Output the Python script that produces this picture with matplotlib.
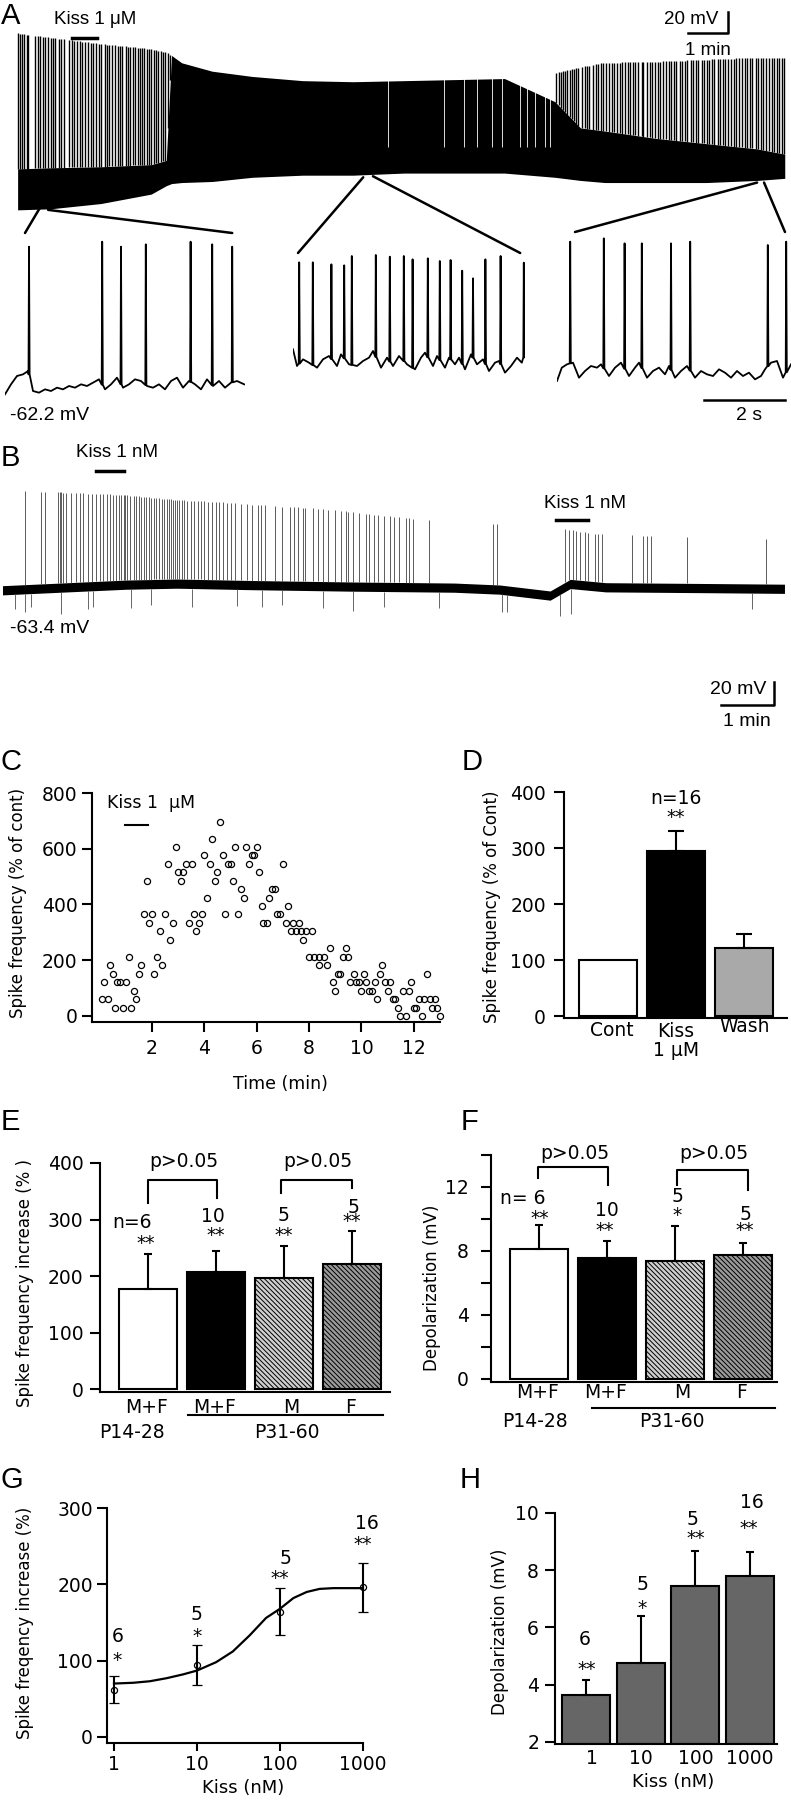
import numpy as np
import matplotlib
matplotlib.use("Agg")
import matplotlib.pyplot as plt
from matplotlib.patches import ConnectionPatch
from matplotlib import font_manager as fm

W, H = 791, 1800
SANS = "DejaVu Sans"
_names = {f.name for f in fm.fontManager.ttflist}
ARIAL = "Liberation Sans" if "Liberation Sans" in _names else "DejaVu Sans"
plt.rcParams["font.family"] = SANS
plt.rcParams["hatch.linewidth"] = 0.7

# ---------------- A: long recording, Kiss 1 uM (t in min, V in mV) ----------------
A_env_t   = [0.04, 0.85, 2.09, 3.33, 3.7, 3.83, 4.08, 4.83, 5.82, 7.06, 8.30, 9.55,
             10.8, 12.03, 13.27, 13.9, 14.5, 15.76, 17.0, 18.25, 18.93]
A_env_top = [85, 81, 75, 70, 67, 64, 57, 49, 44, 40, 39, 40, 41, 42, 47, 53, 57,
             58, 60, 62, 62]
A_env_bot = [-83, -82, -77, -68, -60, -58, -57, -56, -52, -50, -50, -48, -48, -48,
             -52, -55, -57, -57, -57, -55, -53]
A_env_mid = [-44, -43, -42, -40, -36, 64, 57, 49, 44, 40, 39, 40, 41, 42, 20, -5,
             -8, -15, -20, -25, -30]
A_spk_left = [0.05, 0.1, 0.15, 0.2, 0.26, 0.3, 0.48, 0.55, 0.6, 0.66, 0.72, 0.8,
              0.85, 0.92, 0.97, 1.05, 1.12, 1.17, 1.3, 1.38, 1.44, 1.5, 1.58,
              1.63, 1.7, 1.78, 1.85, 1.9, 1.98, 2.05, 2.1, 2.18, 2.25, 2.3, 2.36,
              2.45, 2.5, 2.56, 2.62, 2.7, 2.75, 2.8, 2.87, 2.93, 3.0, 3.05, 3.1,
              3.16, 3.22, 3.28, 3.33, 3.4, 3.45, 3.5, 3.56, 3.62, 3.68, 3.74, 3.8]
A_spk_right = [13.3, 13.36, 13.41, 13.47, 13.52, 13.58, 13.63, 13.69, 13.74, 13.8,
               13.85, 13.93, 14.0, 14.06, 14.11, 14.2, 14.27, 14.33, 14.41, 14.46,
               14.53, 14.6, 14.67, 14.72, 14.8, 14.87, 14.92, 15.0, 15.06, 15.13,
               15.2, 15.24, 15.32, 15.41, 15.45, 15.53, 15.6, 15.65, 15.73, 15.81,
               15.86, 15.94, 16.0, 16.07, 16.13, 16.21, 16.26, 16.35, 16.4, 16.47,
               16.53, 16.61, 16.66, 16.74, 16.8, 16.88, 16.93, 17.01, 17.07, 17.14,
               17.2, 17.28, 17.33, 17.41, 17.47, 17.54, 17.6, 17.68, 17.73, 17.81,
               17.87, 17.94, 18.0, 18.08, 18.13, 18.21, 18.27, 18.34, 18.4, 18.48,
               18.53, 18.61, 18.67, 18.74, 18.8, 18.87, 18.92]
A_gap_t = [9.17, 10.54, 11.04, 11.35, 11.72, 11.97, 12.4, 12.59, 12.78, 13.03, 13.15]

# A insets (t in s, V in mV)
IL_bt = [0, 0.15, 0.3, 0.45, 0.58, 0.7, 0.85, 1.0, 1.15, 1.3, 1.45, 1.6, 1.75, 1.9,
         2.05, 2.2, 2.35, 2.5, 2.65, 2.8, 2.95, 3.1, 3.25, 3.4, 3.55, 3.7, 3.85,
         4.0, 4.15, 4.3, 4.45, 4.6, 4.75, 4.9, 5.05, 5.2, 5.35, 5.5, 5.65, 5.8, 5.98]
IL_bv = [-66, -60, -55, -54, -52, -64, -65, -63, -64, -62, -63, -61, -62, -60,
         -61, -59, -57, -63, -60, -56, -62, -60, -57, -58, -61, -62, -60, -63,
         -58, -56, -62, -58, -60, -63, -57, -61, -58, -62, -59, -58, -60]
IL_st = [0.6, 2.43, 2.9, 3.52, 4.64, 5.18, 5.68]
IL_sv = [22.6, 25.6, 22.6, 24, 25.6, 24, 22.6]

IM_bt = [0, 0.1, 0.25, 0.4, 0.6, 0.75, 0.9, 1.1, 1.2, 1.4, 1.6, 1.75, 1.9, 2.0,
         2.2, 2.35, 2.5, 2.65, 2.85, 3.05, 3.2, 3.3, 3.5, 3.6, 3.8, 3.9, 4.05,
         4.15, 4.3, 4.45, 4.6, 4.75, 4.9, 5.05, 5.15, 5.3, 5.45, 5.6, 5.72, 5.8]
IM_bv = [-39, -49, -45, -47, -50, -45, -43, -49, -42, -48, -49, -46, -44, -40,
         -50, -44, -49, -43, -48, -51, -44, -41, -49, -43, -50, -44, -48, -44,
         -51, -42, -48, -45, -52, -47, -46, -53, -49, -44, -47, -42]
IM_st = [0.155, 0.495, 0.96, 1.28, 1.47, 2.07, 2.42, 2.77, 2.99, 3.37, 3.67,
         3.94, 4.23, 4.5, 4.81, 5.19, 5.77]
IM_sv = [13.2, 13.2, 12, 11.4, 17, 17.6, 16.6, 17, 15, 15.6, 14, 14.6, 8.2,
         3.6, 15, 17, 13]

IR_bt = [0, 0.12, 0.25, 0.4, 0.55, 0.7, 0.85, 1.0, 1.1, 1.3, 1.45, 1.6, 1.8,
         1.95, 2.05, 2.25, 2.4, 2.55, 2.7, 2.8, 2.95, 3.1, 3.25, 3.45, 3.6, 3.75,
         3.9, 4.05, 4.2, 4.35, 4.5, 4.65, 4.8, 4.95, 5.1, 5.2, 5.35, 5.5, 5.65, 5.85]
IR_bv = [-58, -50, -48, -47, -56, -52, -49, -50, -48, -55, -50, -47, -55, -50,
         -47, -56, -52, -50, -54, -49, -56, -52, -49, -56, -52, -54, -55, -51,
         -53, -56, -52, -55, -53, -57, -55, -51, -47, -46, -56, -48]
IR_st = [0.33, 1.17, 1.69, 2.12, 2.85, 3.33, 5.27, 5.73]
IR_sv = [25.6, 27.6, 24.6, 24.6, 24.6, 25.6, 23.6, 25.6]

# ---------------- B: Kiss 1 nM, two applications (t in min, V in mV) ----------------
B_band_t  = [0.0, 2.33, 3.29, 4.71, 6.62, 8.52, 9.38, 10.33, 10.71, 11.38, 13.28, 14.75]
B_band_hi = [-61.4, -56.5, -55.6, -56.9, -58.2, -59.1, -60.8, -66, -55.9, -58.8, -59.5, -60.1]
B_band_lo = [-69.4, -64.5, -63.6, -64.9, -66.2, -67.1, -68.8, -74, -63.9, -66.8, -67.5, -68.1]
B_top_t = [0.4, 2.3, 3.3, 4.2, 4.9, 6.0, 7.7, 9.3, 10.6, 11.1, 12.0, 12.9, 14.4]
B_top_v = [21, 17.5, 13, 11, 8.5, 5.5, -3, -8, -12, -16, -18, -19, -21]
B_spk = [0.43, 0.73, 0.81, 1.05, 1.08, 1.11, 1.14, 1.19, 1.29, 1.38, 1.46, 1.52,
         1.62, 1.69, 1.76, 1.83, 1.9, 1.97, 2.03, 2.09, 2.14, 2.19, 2.24, 2.29,
         2.31, 2.35, 2.41, 2.48, 2.52, 2.57, 2.62, 2.67, 2.71, 2.76, 2.81, 2.86,
         2.9, 2.95, 3.0, 3.05, 3.1, 3.14, 3.17, 3.21, 3.25, 3.29, 3.33, 3.38,
         3.43, 3.48, 3.55, 3.62, 3.68, 3.74, 3.81, 3.87, 3.95, 4.03, 4.09, 4.16,
         4.24, 4.31, 4.38, 4.5, 4.62, 4.71, 4.81, 4.88, 4.95, 5.14, 5.28, 5.43,
         5.49, 5.57, 5.66, 5.71, 5.86, 5.95, 6.05, 6.14, 6.28, 6.38, 6.47, 6.52,
         6.62, 6.73, 6.85, 6.92, 7.0, 7.09, 7.19, 7.3, 7.38, 7.47, 7.62, 7.66,
         7.74, 8.04, 9.26, 9.33, 10.61, 10.69, 10.76, 10.82, 10.9, 10.98, 11.04,
         11.17, 11.23, 11.3, 11.87, 12.09, 12.16, 12.23, 12.92, 14.4]
B_neg_t = [0.24, 0.43, 0.54, 1.1, 1.62, 1.71, 2.43, 2.81, 3.57, 4.43, 4.9, 5.28,
           6.05, 6.62, 7.19, 8.23, 9.42, 9.52, 10.52, 10.73, 14.14]
B_neg_v = [-82, -84, -80, -86, -82, -80, -81, -78, -80, -79, -80, -78, -81, -83,
           -80, -81, -84, -84, -88, -86, -82]

# ---------------- C: time course (% of control) ----------------
C_time = [0.09, 0.31, 0.18, 0.41, 0.5, 0.58, 0.66, 0.79, 0.89, 1.01, 1.11, 1.2,
          1.3, 1.4, 1.49, 1.59, 1.71, 1.81, 1.9, 2.0, 2.09, 2.19, 2.29, 2.39,
          2.51, 2.6, 2.7, 2.8, 2.9, 3.0, 3.1, 3.2, 3.3, 3.4, 3.51, 3.6, 3.69,
          3.79, 3.9, 4.0, 4.1, 4.2, 4.3, 4.4, 4.49, 4.6, 4.7, 4.79, 4.89, 5.0,
          5.1, 5.19, 5.3, 5.4, 5.5, 5.58, 5.71, 5.81, 5.91, 6.0, 6.1, 6.19, 6.25,
          6.38, 6.48, 6.6, 6.7, 6.79, 6.89, 6.99, 7.1, 7.2, 7.3, 7.4, 7.5, 7.6,
          7.7, 7.78, 7.9, 8.1, 8.0, 8.2, 8.39, 8.57, 8.39, 8.7, 8.8, 8.9, 9.0,
          9.09, 9.18, 9.3, 9.4, 9.49, 9.58, 9.71, 9.81, 9.9, 10.0, 10.1, 10.19,
          10.29, 10.39, 10.51, 10.6, 10.7, 10.79, 10.89, 11.0, 11.1, 11.2, 11.3,
          11.4, 11.49, 11.59, 11.69, 11.8, 11.9, 12.0, 12.1, 12.2, 12.3, 12.39,
          12.5, 12.6, 12.7, 12.79, 12.9, 12.99]
C_freq = [61, 61, 121, 182, 152, 30, 121, 121, 30, 121, 212, 30, 91, 61, 152, 182,
          364, 485, 333, 364, 152, 212, 303, 182, 364, 545, 273, 333, 606, 515,
          485, 515, 545, 333, 545, 364, 303, 333, 364, 576, 424, 545, 636, 485,
          515, 697, 576, 364, 545, 545, 485, 606, 364, 455, 424, 606, 545, 576,
          576, 606, 515, 394, 333, 333, 424, 455, 455, 364, 364, 545, 333, 394,
          303, 333, 303, 333, 303, 273, 303, 303, 212, 212, 212, 212, 182, 182,
          242, 121, 91, 152, 152, 212, 242, 212, 121, 152, 121, 121, 91, 152, 121,
          91, 91, 121, 61, 152, 182, 121, 91, 121, 61, 61, 30, 0, 91, 0, 91, 121,
          30, 30, 61, 0, 61, 152, 61, 30, 61, 30, 0]

# ---------------- D ----------------
D_cats = ["Cont", "Kiss\n1 \u03bcM", "Wash"]
D_val = [100, 295, 121]
D_sem = [0, 35, 25]

# ---------------- E / F ----------------
EF_cats = ["M+F", "M+F", "M", "F"]
E_val = [177, 208, 196, 221]
E_sem = [62, 37, 57, 58]
F_val = [8.1, 7.57, 7.4, 7.76]
F_sem = [1.5, 1.06, 2.15, 0.77]
E_n = ["n=6", "10", "5", "5"]
E_sig = ["**", "**", "**", "**"]
F_n = ["n= 6", "10", "5", "5"]
F_sig = ["**", "**", "*", "**"]

# ---------------- G / H ----------------
G_dose = [1, 10, 100, 1000]
G_val = [62, 94, 164, 196]
G_lo = [18, 26, 31, 32]
G_hi = [18, 26, 31, 32]
G_fit_x = [1, 1.7, 2.7, 4.3, 6.8, 10, 17, 27, 43, 68, 100, 145, 210, 300, 440, 1000]
G_fit_y = [70, 71, 73, 77, 82, 87, 98, 112, 133, 156, 168, 182, 190, 194, 195, 195]
G_n = ["6", "5", "5", "16"]
G_sig = ["*", "*", "**", "**"]
H_cats = ["1", "10", "100", "1000"]
H_val = [3.63, 4.77, 7.44, 7.79]
H_sem = [0.55, 1.62, 1.22, 0.85]
H_n = ["6", "5", "5", "16"]
H_sig = ["**", "*", "**", "**"]

fig = plt.figure(figsize=(W / 100, H / 100), dpi=100)


def axbox(x0, y0, x1, y1):
    return fig.add_axes([x0 / W, 1 - y1 / H, (x1 - x0) / W, (y1 - y0) / H])


def ftext(x, y, s, **kw):
    fig.text(x / W, 1 - y / H, s, **kw)


def style(ax, ypad=4):
    for s in ("top", "right"):
        ax.spines[s].set_visible(False)
    for s in ("left", "bottom"):
        ax.spines[s].set_linewidth(1.5)
    ax.tick_params(direction="out", length=7, width=1.5, labelsize=13.5)
    ax.tick_params(axis="y", pad=ypad)


def trace(ax, bt, bv, st, sv):
    pts = list(zip(bt, bv))
    for ts, vs in zip(st, sv):
        b = np.interp(ts, bt, bv)
        pts += [(ts - 0.012, b), (ts, vs), (ts + 0.015, b)]
    pts.sort()
    ax.plot([p[0] for p in pts], [p[1] for p in pts], color="k", lw=1.3)


# ---- panel letters ----
for lab, x, y in [("A", 1, 2), ("B", 1, 444), ("C", 1, 748), ("D", 462, 748),
                  ("E", 1, 1108), ("F", 461, 1108), ("G", 1, 1466), ("H", 460, 1466)]:
    ftext(x, y, lab, fontsize=21, family=ARIAL, va="top")

# ================= A =================
axA = axbox(16, 0, 788, 215)
axA.set_xlim(0, 19.01)
axA.set_ylim(-87.9, 116.8)
axA.axis("off")
axA.fill_between(A_env_t, A_env_bot, A_env_mid, color="k", lw=0)
for spk in (A_spk_left, A_spk_right):
    axA.vlines(spk, np.interp(spk, A_env_t, A_env_mid), np.interp(spk, A_env_t, A_env_top),
               color="k", lw=1.0)
axA.vlines(A_gap_t, -23, np.interp(A_gap_t, A_env_t, A_env_top) + 1, color="w", lw=0.6)
axA.plot([1.38, 1.99], [80.6, 80.6], color="k", lw=2.5, clip_on=False)
axA.text(1.95, 90, "Kiss 1 \u03bcM", family=ARIAL, fontsize=13.5, ha="center", va="bottom")
axA.plot([16.54, 17.54, 17.54], [85.4, 85.4, 105.4], color="k", lw=1.8, clip_on=False)
axA.text(17.3, 98, "20 mV", family=ARIAL, fontsize=13.5, ha="right", va="center")
axA.text(17.04, 69, "1 min", family=ARIAL, fontsize=13.5, ha="center", va="center")

insets = []
for (x0, x1, xr, bt, bv, st, sv) in [(5, 245, 6.0, IL_bt, IL_bv, IL_st, IL_sv),
                                      (293, 525, 5.8, IM_bt, IM_bv, IM_st, IM_sv),
                                      (557, 791, 5.85, IR_bt, IR_bv, IR_st, IR_sv)]:
    ai = axbox(x0, 225, x1, 400)
    ai.set_xlim(0, xr)
    ai.set_ylim(-69.4, 35.6)
    ai.axis("off")
    trace(ai, bt, bv, st, sv)
    insets.append(ai)

for ai, pa, pb in [(insets[0], (0.59, -81), (0.5, 30.8)),
                   (insets[0], (0.79, -83), (5.68, 30.8)),
                   (insets[1], (8.55, -52), (0.125, 18.8)),
                   (insets[1], (8.79, -51), (5.68, 18.8)),
                   (insets[2], (18.25, -57), (0.45, 31.4)),
                   (insets[2], (18.42, -57), (5.7, 31.4))]:
    con = ConnectionPatch(xyA=pa, coordsA=axA.transData, xyB=pb, coordsB=ai.transData,
                          color="k", lw=1.8)
    fig.add_artist(con)

ftext(10, 415, "-62.2 mV", family=ARIAL, fontsize=14, ha="left", va="center")
insets[2].plot([3.675, 5.7], [-69.4, -69.4], color="k", lw=1.8, clip_on=False)
insets[2].text(4.8, -78.5, "2 s", family=ARIAL, fontsize=14, ha="center", va="center")

# ================= B =================
axB = axbox(2.5, 440, 785, 730)
axB.set_xlim(0, 14.76)
axB.set_ylim(-186.9, 65.3)
axB.axis("off")
axB.fill_between(B_band_t, B_band_lo, B_band_hi, color="k", lw=0)
axB.vlines(B_spk, np.interp(B_spk, B_band_t, B_band_hi), np.interp(B_spk, B_top_t, B_top_v),
           color="0.25", lw=0.6)
axB.vlines(B_neg_t, np.interp(B_neg_t, B_band_t, B_band_lo), B_neg_v, color="0.3", lw=0.6)
axB.plot([1.76, 2.29], [38.3, 38.3], color="k", lw=2.5)
axB.text(2.16, 54, "Kiss 1 nM", family=ARIAL, fontsize=13.5, ha="center", va="center")
axB.plot([10.44, 11.05], [-4.3, -4.3], color="k", lw=2.5)
axB.text(10.99, 10.5, "Kiss 1 nM", family=ARIAL, fontsize=13.5, ha="center", va="center")
axB.text(0.14, -99, "-63.4 mV", family=ARIAL, fontsize=14, ha="left", va="center")
axB.plot([13.56, 14.56, 14.56], [-165.1, -165.1, -145.1], color="k", lw=1.8)
axB.text(14.4, -152.1, "20 mV", family=ARIAL, fontsize=14, ha="right", va="center")
axB.text(14.05, -179.9, "1 min", family=ARIAL, fontsize=14, ha="center", va="center")

# ================= C =================
axC = axbox(92, 793, 440, 1022)
axC.set_xlim(-0.29, 13.0)
axC.set_ylim(-22, 800)
style(axC, ypad=3.5)
axC.plot(C_time, C_freq, "o", ms=4.4, mfc="none", mec="k", mew=0.9, clip_on=False)
axC.set_xticks([2, 4, 6, 8, 10, 12])
axC.set_yticks([0, 200, 400, 600, 800])
axC.tick_params(axis="x", pad=5)
axC.plot([0.97, 1.85], [685, 685], color="k", lw=1.5)
axC.text(0.28, 764, "Kiss 1  \u03bcM", fontsize=12.5, ha="left", va="center")
axC.text(6.92, -245, "Time (min)", fontsize=12.5, ha="center", va="center")
ftext(18, 903, "Spike frequency (% of cont)", fontsize=12, rotation=90, ha="center", va="center")

# ================= D =================
axD = axbox(564, 792, 787, 1018)
axD.set_xlim(-0.647, 2.63)
axD.set_ylim(-3, 400)
style(axD, ypad=6)
axD.set_xticks([])
axD.set_yticks([0, 100, 200, 300, 400])
xd = np.arange(len(D_val))
axD.bar(xd, D_val, width=0.853, color=["white", "black", "#a9a9a9"], edgecolor="k", lw=1.5)
for i in range(len(D_val)):
    if D_sem[i] > 0:
        axD.errorbar(xd[i], D_val[i], yerr=[[0], [D_sem[i]]], fmt="none", ecolor="k",
                     elinewidth=1.5, capsize=5.5, capthick=1.5)
axD.text(1.0, 389, "n=16", fontsize=13.5, ha="center", va="center")
axD.text(1.0, 355, "**", fontsize=13.5, ha="center", va="center")
for i, (lab, yy) in enumerate(zip(D_cats, [-26, -44, -18])):
    axD.text(xd[i] + (0.05 if i == 0 else 0.0), yy, lab, fontsize=13.5, ha="center",
             va="center", linespacing=0.95, clip_on=False)
ftext(492, 907, "Spike frequency (% of Cont)", fontsize=12, rotation=90, ha="center", va="center")


# ================= E / F =================
def ef_panel(ax, vals, sems, ns, sigs, ylabel_xy, ylabel, lab_y, p_y, line_y,
             n_pos, s_pos, brackets, ptxt_y, ypad):
    style(ax, ypad=ypad)
    ax.set_xticks([])
    x = np.arange(len(vals))
    cols = ["white", "black", "#cfcfcf", "#9a9a9a"]
    hatches = [None, None, "\\" * 7, "\\" * 7]
    for i in range(len(vals)):
        ax.bar(x[i], vals[i], width=0.853, color=cols[i], edgecolor="k", lw=1.5,
               hatch=hatches[i])
    ax.errorbar(x, vals, yerr=[[0] * len(vals), sems], fmt="none", ecolor="k",
                elinewidth=1.5, capsize=3.2, capthick=1.5, zorder=3)
    for i in range(len(vals)):
        ax.text(n_pos[i][0], n_pos[i][1], ns[i], fontsize=13.5, ha="center", va="center")
        ax.text(s_pos[i][0], s_pos[i][1], sigs[i], fontsize=13.5, ha="center", va="center")
    for (xa, xb, top, la, lb) in brackets:
        ax.plot([xa, xa, xb, xb], [la, top, top, lb], color="k", lw=1.5, clip_on=False)
        ax.text((xa + xb) / 2 + 0.02, ptxt_y, "p>0.05", fontsize=13.5, ha="center",
                va="center", clip_on=False)
    for i, lab in enumerate(EF_cats):
        ax.text(x[i] + (-0.02 if i < 2 else 0.1 if i == 2 else -0.02), lab_y, lab,
                fontsize=13.5, ha="center", va="center", clip_on=False)
    ax.plot(line_y[0], [line_y[1]] * 2, color="k", lw=1.5, clip_on=False)
    ax.text(line_y[2], p_y, "P14-28", fontsize=13.5, ha="center", va="center", clip_on=False)
    ax.text(line_y[3], p_y, "P31-60", fontsize=13.5, ha="center", va="center", clip_on=False)
    ftext(ylabel_xy[0], ylabel_xy[1], ylabel, fontsize=12, rotation=90, ha="center",
          va="center")


axE = axbox(100, 1163, 390, 1392)
axE.set_xlim(-0.706, 3.56)
axE.set_ylim(-5, 400)
axE.set_yticks([0, 100, 200, 300, 400])
ef_panel(axE, E_val, E_sem, E_n, E_sig, (25, 1283), "Spike frequency increase (% )",
         -32, -76, ([0.59, 3.46], -46, -0.24, 2.04),
         [(-0.24, 294), (0.96, 305), (1.99, 308), (3.03, 322)],
         [(-0.04, 258), (0.99, 271), (1.99, 271), (3.0, 297)],
         [(0.0, 1.02, 370, 329, 338), (1.96, 3.0, 370, 347, 356)], 402, 5)

axF = axbox(491, 1155, 777, 1382)
axF.set_xlim(-0.706, 3.5)
axF.set_ylim(-0.19, 14)
axF.set_yticks([0, 2, 4, 6, 8, 10, 12, 14])
axF.set_yticklabels(["0", "", "4", "", "8", "", "12", ""])
ef_panel(axF, F_val, F_sem, F_n, F_sig, (432, 1288), "Depolarization (mV)",
         -0.875, -2.69, ([0.78, 3.47], -1.81, -0.06, 1.95),
         [(-0.24, 11.3), (1.0, 10.5), (2.03, 11.4), (3.03, 10.3)],
         [(0.01, 10.0), (0.96, 9.3), (2.03, 10.2), (3.03, 9.3)],
         [(-0.01, 1.01, 13.25, 12.56, 12.1), (2.03, 3.07, 13.06, 12.1, 11.8)], 14.1, 9)

# ================= G =================
axG = axbox(107, 1508, 363, 1743)
axG.set_xscale("log")
axG.set_xlim(0.824, 1000)
axG.set_ylim(-7.9, 300)
style(axG, ypad=3)
axG.set_xticks(G_dose)
axG.set_xticklabels([str(d) for d in G_dose])
axG.minorticks_off()
axG.tick_params(axis="x", pad=3, length=6)
axG.plot(G_fit_x, G_fit_y, color="k", lw=1.6, clip_on=False)
axG.errorbar(G_dose, G_val, yerr=[G_lo, G_hi], fmt="o", ms=4.4, mfc="none", mec="k",
             mew=0.9, ecolor="k", elinewidth=1.5, capsize=3.5, capthick=1.5, clip_on=False)
for (xx, yy), s in zip([(1.12, 131), (10, 160), (115, 234), (1120, 280)], G_n):
    axG.text(xx, yy, s, fontsize=13.5, ha="center", va="center", clip_on=False)
for (xx, yy), s in zip([(1.09, 100), (10, 132), (100, 208), (1000, 252)], G_sig):
    axG.text(xx, yy, s, fontsize=13.5, ha="center", va="center", clip_on=False)
axG.text(35.8, -67, "Kiss (nM)", fontsize=13, ha="center", va="center")
ftext(25, 1623, "Spike freqency increase (%)", fontsize=12, rotation=90, ha="center",
      va="center")

# ================= H =================
axH = axbox(555, 1513, 777, 1744)
axH.set_xlim(-0.567, 3.49)
axH.set_ylim(1.93, 10)
style(axH, ypad=4.5)
axH.set_xticks([])
axH.set_yticks([2, 4, 6, 8, 10])
xh = np.arange(len(H_val))
axH.bar(xh, np.array(H_val) - 1.93, bottom=1.93, width=0.877, color="#666666",
        edgecolor="k", lw=1.5)
axH.errorbar(xh, H_val, yerr=[[0] * 4, H_sem], fmt="none", ecolor="k", elinewidth=1.5,
             capsize=3.2, capthick=1.5)
for (xx, yy), s in zip([(-0.02, 5.57), (1.03, 7.49), (1.94, 9.76), (3.03, 10.36)], H_n):
    axH.text(xx, yy, s, fontsize=13.5, ha="center", va="center", clip_on=False)
for (xx, yy), s in zip([(0.02, 4.55), (1.03, 6.68), (2.0, 9.1), (2.98, 9.45)], H_sig):
    axH.text(xx, yy, s, fontsize=13.5, ha="center", va="center", clip_on=False)
for i, lab in enumerate(H_cats):
    axH.text(xh[i] + (0.1 if i == 0 else 0.0), 1.42, lab, fontsize=13.5, ha="center",
             va="center", clip_on=False)
axH.text(1.6, 0.6, "Kiss (nM)", fontsize=13, ha="center", va="center", clip_on=False)
ftext(500, 1632, "Depolarization (mV)", fontsize=12, rotation=90, ha="center", va="center")

fig.savefig("out.png", dpi=100)
